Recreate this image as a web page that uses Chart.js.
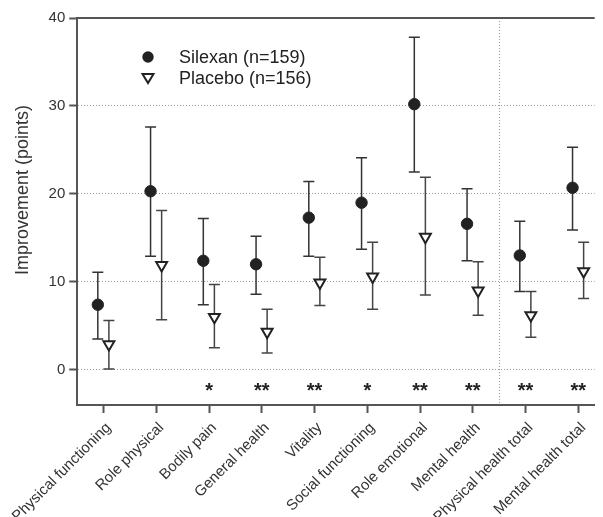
<!DOCTYPE html>
<html>
<head>
<meta charset="utf-8">
<script src="https://cdn.jsdelivr.net/npm/chart.js@4/dist/chart.umd.min.js"></script>
<style>
  html, body { margin: 0; padding: 0; background: #fff; overflow: hidden; }
  #wrap { width: 603px; height: 517px; }
</style>
</head>
<body>
<div id="wrap"><canvas id="chart" width="603" height="517"></canvas></div>
<script>
// SF-36 improvement by subscale
const categories = ['Physical functioning', 'Role physical', 'Bodily pain', 'General health', 'Vitality',
  'Social functioning', 'Role emotional', 'Mental health', 'Physical health total', 'Mental health total'];

const silexanMean = [7.4, 20.3, 12.4, 12.0, 17.3, 19.0, 30.2, 16.6, 13.0, 20.7];
const silexanLow  = [3.5, 12.9, 7.4, 8.6, 12.9, 13.7, 22.5, 12.4, 8.9, 15.9];
const silexanHigh = [11.1, 27.6, 17.2, 15.2, 21.4, 24.1, 37.8, 20.6, 16.9, 25.3];

const placeboMean = [2.9, 11.9, 6.0, 4.3, 9.9, 10.6, 15.1, 9.0, 6.2, 11.2];
const placeboLow  = [0.1, 5.7, 2.5, 1.9, 7.3, 6.9, 8.5, 6.2, 3.7, 8.1];
const placeboHigh = [5.6, 18.1, 9.7, 6.9, 12.8, 14.5, 21.9, 12.3, 8.9, 14.5];

const stars = ['', '', '*', '**', '**', '*', '**', '**', '**', '**'];
const yTicks = [0, 10, 20, 30, 40];

const FONT = '"Liberation Sans", Arial, sans-serif';
const INK = '#222';
const AXIS = '#555';

const silexanPts = silexanMean.map((v, i) => ({ x: i - 0.11, y: v }));
const placeboPts = placeboMean.map((v, i) => ({ x: i + 0.1, y: v }));

const errorBars = {
  id: 'errorBars',
  beforeDatasetsDraw(chart) {
    const { ctx, scales: { x, y } } = chart;
    const groups = [
      { pts: silexanPts, lo: silexanLow, hi: silexanHigh, color: '#333' },
      { pts: placeboPts, lo: placeboLow, hi: placeboHigh, color: '#444' }
    ];
    ctx.save();
    ctx.lineWidth = 1.5;
    groups.forEach(g => {
      ctx.strokeStyle = g.color;
      g.pts.forEach((p, i) => {
        const px = x.getPixelForValue(p.x);
        const top = y.getPixelForValue(g.hi[i]);
        const bot = y.getPixelForValue(g.lo[i]);
        ctx.beginPath();
        ctx.moveTo(px, top); ctx.lineTo(px, bot);
        ctx.moveTo(px - 5.5, top); ctx.lineTo(px + 5.5, top);
        ctx.moveTo(px - 5.5, bot); ctx.lineTo(px + 5.5, bot);
        ctx.stroke();
      });
    });
    ctx.restore();
  }
};

const extras = {
  id: 'extras',
  beforeDatasetsDraw(chart) {
    const { ctx, chartArea: a, scales: { x, y } } = chart;
    ctx.save();
    // divider between subscales and totals
    const dx = Math.round(x.getPixelForValue(7.5)) + 0.5;
    ctx.strokeStyle = '#999';
    ctx.lineWidth = 1;
    ctx.setLineDash([1, 2]);
    ctx.beginPath();
    ctx.moveTo(dx, a.top); ctx.lineTo(dx, a.bottom);
    ctx.stroke();
    ctx.setLineDash([]);
    // top frame line
    ctx.strokeStyle = AXIS;
    ctx.lineWidth = 2;
    ctx.beginPath();
    ctx.moveTo(a.left, a.top); ctx.lineTo(a.right, a.top);
    ctx.stroke();
    ctx.restore();
  },
  afterDraw(chart) {
    const { ctx, scales: { x, y } } = chart;
    ctx.save();
    // significance marks
    ctx.fillStyle = '#222';
    ctx.font = 'bold 20px ' + FONT;
    ctx.textAlign = 'center';
    ctx.textBaseline = 'alphabetic';
    stars.forEach((s, i) => {
      if (s) ctx.fillText(s, x.getPixelForValue(i), y.getPixelForValue(-1.75) + 12);
    });
    // y title
    ctx.save();
    ctx.translate(23, 190);
    ctx.rotate(-Math.PI / 2);
    ctx.font = '18px ' + FONT;
    ctx.fillStyle = '#333';
    ctx.textAlign = 'center';
    ctx.textBaseline = 'middle';
    ctx.fillText('Improvement (points)', 0, 0);
    ctx.restore();
    // legend
    ctx.fillStyle = INK;
    ctx.beginPath();
    ctx.arc(148, 57, 5.7, 0, Math.PI * 2);
    ctx.fill();
    ctx.strokeStyle = INK;
    ctx.lineWidth = 2;
    ctx.fillStyle = '#fff';
    ctx.beginPath();
    ctx.moveTo(142.5, 74); ctx.lineTo(153.5, 74); ctx.lineTo(148, 83);
    ctx.closePath();
    ctx.fill(); ctx.stroke();
    ctx.fillStyle = INK;
    ctx.font = '18px ' + FONT;
    ctx.textAlign = 'left';
    ctx.textBaseline = 'middle';
    ctx.fillText('Silexan (n=159)', 179, 58);
    ctx.fillText('Placebo (n=156)', 179, 79);
    ctx.restore();
  }
};

new Chart(document.getElementById('chart'), {
  type: 'scatter',
  data: {
    datasets: [
      {
        label: 'Silexan (n=159)',
        data: silexanPts,
        pointStyle: 'circle',
        pointRadius: 5.7,
        pointBackgroundColor: INK,
        pointBorderColor: INK,
        pointBorderWidth: 1
      },
      {
        label: 'Placebo (n=156)',
        data: placeboPts,
        pointStyle: 'triangle',
        rotation: 180,
        pointRotation: 180,
        pointRadius: 6.3,
        pointBackgroundColor: '#fff',
        pointBorderColor: INK,
        pointBorderWidth: 2
      }
    ]
  },
  options: {
    responsive: false,
    animation: false,
    layout: { padding: { top: 18, right: 0, left: 0, bottom: 0 } },
    plugins: {
      legend: { display: false },
      tooltip: { enabled: false }
    },
    scales: {
      x: {
        type: 'linear',
        min: -0.5,
        max: 9.31,
        afterBuildTicks: s => { s.ticks = categories.map((_, i) => ({ value: i })); },
        afterFit: s => { s.height = 112; },
        grid: { drawOnChartArea: false, tickLength: 8, tickColor: AXIS, tickWidth: 2 },
        border: { color: AXIS, width: 2 },
        ticks: {
          autoSkip: false,
          minRotation: 45,
          maxRotation: 45,
          padding: 6,
          labelOffset: 5,
          color: '#333',
          font: { family: FONT, size: 15 },
          callback: v => categories[v] || ''
        }
      },
      y: {
        min: -4,
        max: 40,
        afterBuildTicks: s => { s.ticks = yTicks.map(v => ({ value: v })); },
        afterFit: s => { s.width = 76; },
        grid: {
          color: c => (c.tick && c.tick.value === 40) ? 'rgba(0,0,0,0)' : '#999',
          lineWidth: 1,
          tickLength: 8,
          tickColor: AXIS,
          tickWidth: 2
        },
        border: { color: AXIS, width: 2, dash: [1, 2] },
        ticks: {
          padding: 4,
          color: '#333',
          font: { family: FONT, size: 15 }
        }
      }
    }
  },
  plugins: [errorBars, extras]
});
</script>
</body>
</html>
